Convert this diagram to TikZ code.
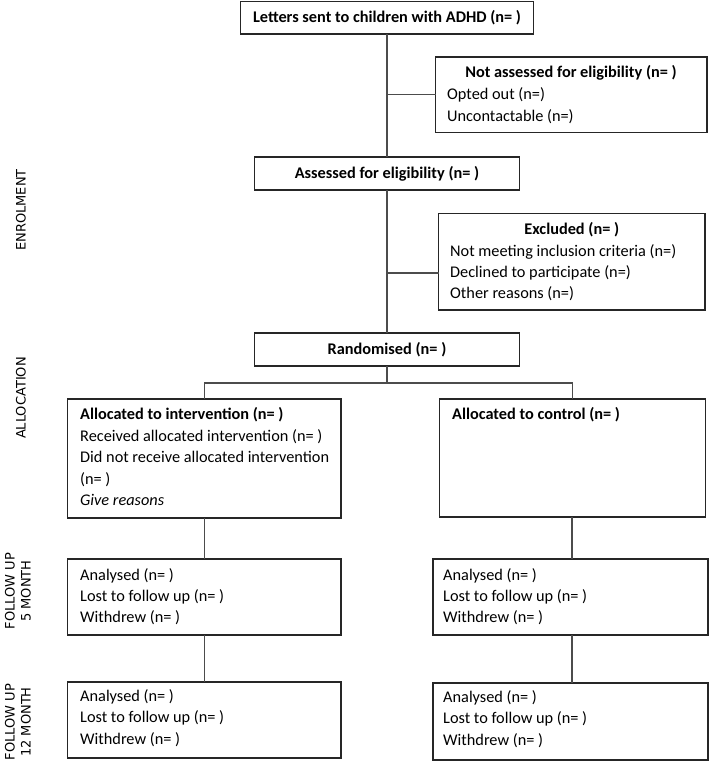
\documentclass[tikz,border=0pt]{standalone}
\usepackage{fontspec}
\setmainfont{Carlito}
\newfontfamily\sidefont{DejaVu Sans}
\begin{document}
\begin{tikzpicture}[x=1pt,y=-1pt,
  box/.style={draw=black!85, line width=1.2pt, rectangle, inner sep=0pt, outer sep=0pt},
  conn/.style={draw=black!70, line width=1.2pt},
  txt/.style={font=\fontsize{16.3}{21.5}\selectfont, inner sep=0pt, anchor=west, text height=12pt, text depth=3pt},
  ttl/.style={font=\fontsize{16.3}{21.5}\selectfont\bfseries, inner sep=0pt, text height=12pt, text depth=3pt},
  side/.style={font=\sidefont\fontsize{13}{16}\selectfont, rotate=90, align=center, inner sep=0pt, text=black}]
\useasboundingbox (0,0) rectangle (709,761);

% boxes
\node[box, minimum width=293pt, minimum height=32.5pt] (b1) at (387,17.75) {};
\node[box, minimum width=271.5pt, minimum height=75.5pt] (nae) at (571.25,94.75) {};
\node[box, minimum width=265pt, minimum height=33pt] (ass) at (387,173.5) {};
\node[box, minimum width=266.5pt, minimum height=96.5pt] (exc) at (571.75,261.75) {};
\node[box, minimum width=265pt, minimum height=33pt] (rand) at (387,349.5) {};
\node[box, minimum width=273.5pt, minimum height=119pt] (int) at (204.25,458.5) {};
\node[box, minimum width=266pt, minimum height=118pt] (ctl) at (572.5,458) {};
\node[box, minimum width=273.5pt, minimum height=76pt] (f5l) at (204.25,597) {};
\node[box, minimum width=275pt, minimum height=76pt] (f5r) at (570.5,597) {};
\node[box, minimum width=273.5pt, minimum height=76pt] (f12l) at (204.25,720) {};
\node[box, minimum width=275pt, minimum height=77pt] (f12r) at (570.5,721.5) {};

% texts
\node[ttl] (t1) at (387,18) {Letters sent to children with ADHD (n= )};
\node[ttl] (t2) at (571,73) {Not assessed for eligibility (n= )};
\node[txt] (t2a) at (447,95) {Opted out (n=)};
\node[txt] (t2b) at (447,117) {Uncontactable (n=)};
\node[ttl] (t3) at (387,173.5) {Assessed for eligibility (n= )};
\node[ttl] (t4) at (571.75,230) {Excluded (n= )};
\node[txt] (t4a) at (450,252) {Not meeting inclusion criteria (n=)};
\node[txt] (t4b) at (450,273) {Declined to participate (n=)};
\node[txt] (t4c) at (450,294) {Other reasons (n=)};
\node[ttl] (t5) at (387,349.5) {Randomised (n= )};
\node[ttl, anchor=west] (t6) at (80,415) {Allocated to intervention (n= )};
\node[txt] (t6a) at (80,437) {Received allocated intervention (n= )};
\node[txt] (t6b) at (80,458) {Did not receive allocated intervention};
\node[txt] (t6c) at (80,480) {(n= )};
\node[txt, font=\fontsize{16.3}{21.5}\selectfont\itshape] (t6d) at (80,501) {Give reasons};
\node[ttl, anchor=west] (t7) at (452,415) {Allocated to control (n= )};
\node[txt] (t8a) at (80,576) {Analysed (n= )};
\node[txt] (t8b) at (80,597) {Lost to follow up (n= )};
\node[txt] (t8c) at (80,618) {Withdrew (n= )};
\node[txt] (t9a) at (443,576) {Analysed (n= )};
\node[txt] (t9b) at (443,597) {Lost to follow up (n= )};
\node[txt] (t9c) at (443,618) {Withdrew (n= )};
\node[txt] (t10a) at (80,697) {Analysed (n= )};
\node[txt] (t10b) at (80,718) {Lost to follow up (n= )};
\node[txt] (t10c) at (80,740) {Withdrew (n= )};
\node[txt] (t11a) at (443,698) {Analysed (n= )};
\node[txt] (t11b) at (443,719) {Lost to follow up (n= )};
\node[txt] (t11c) at (443,741) {Withdrew (n= )};

% side labels
\node[side] (l1) at (21,210) {ENROLMENT};
\node[side] (l2) at (21,398) {ALLOCATION};
\node[side] (l3) at (18,591) {FOLLOW UP\\5 MONTH};
\node[side] (l4) at (18,722) {FOLLOW UP\\12 MONTH};

% connectors
\coordinate (j2) at (387,273);
\coordinate (sp) at (387,383);
\coordinate (rc) at (572,0);
\draw[conn] (b1.south) -- (ass.north);
\draw[conn] (nae.west) -- (nae.west -| b1.south);
\draw[conn] (ass.south) -- (rand.north);
\draw[conn] (j2) -- (j2 -| exc.west);
\draw[conn] (rand.south) -- (sp);
\draw[conn] (int.north) |- (sp) -| (ctl.north);
\draw[conn] (int.south) -- (f5l.north);
\draw[conn] (f5l.south) -- (f12l.north);
\draw[conn] (ctl.south -| rc) -- (f5r.north -| rc);
\draw[conn] (f5r.south -| rc) -- (f12r.north -| rc);
\end{tikzpicture}
\end{document}
